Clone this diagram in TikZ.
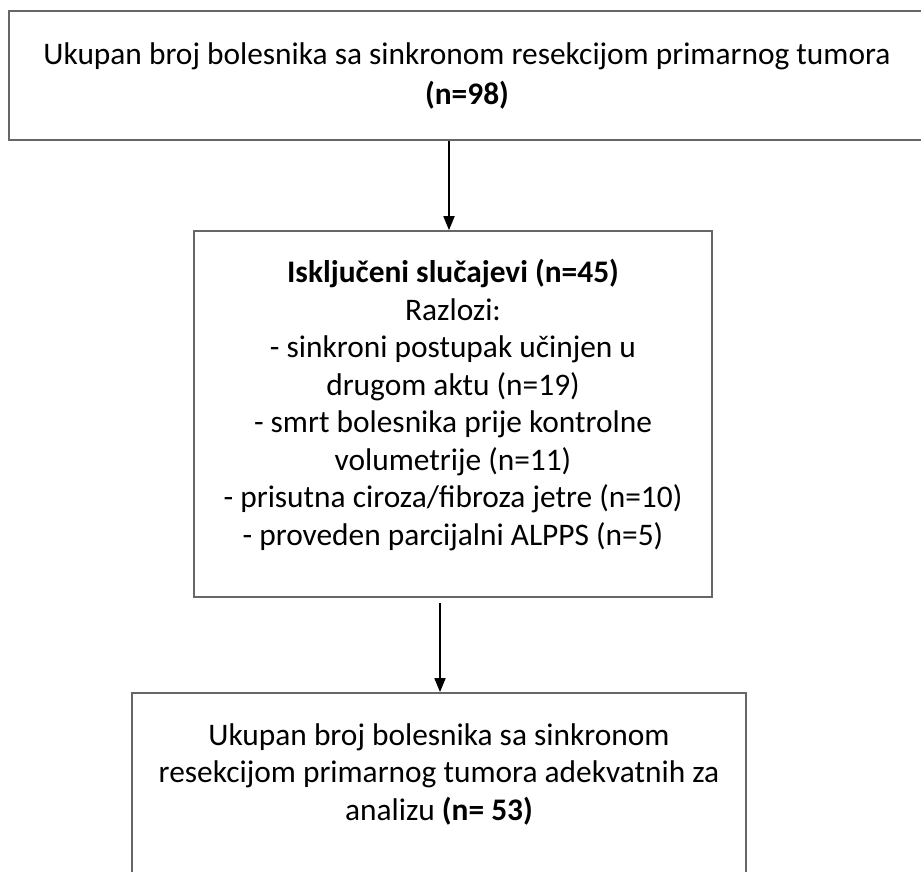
\documentclass[tikz,border=0pt]{standalone}
\usepackage{fontspec}
\setmainfont{Carlito}
\usetikzlibrary{arrows.meta}

\begin{document}
\begin{tikzpicture}[x=0.36pt,y=-0.36pt,
 box/.style={draw=black!60,line width=0.6pt,align=center,inner sep=0pt,
  font=\fontsize{11.3}{13.5}\selectfont},
 arr/.style={-{Triangle[width=4pt,length=5pt]},line width=0.5pt}]
\useasboundingbox (0,0) rectangle (921,871);
\clip (0,0) rectangle (921,871);
\node[box,minimum width=329.8pt,minimum height=46.4pt,font=\fontsize{11.3}{14.4}\selectfont] (total) at (467,75.5)
 {Ukupan broj bolesnika sa sinkronom resekcijom primarnog tumora\\\textbf{(n=98)}};
\node[box,minimum width=186.5pt,minimum height=131.8pt,text depth=8.5pt] (excl) at (453,414)
 {\textbf{Isključeni slučajevi (n=45)}\\Razlozi:\\- sinkroni postupak učinjen u\\drugom aktu (n=19)\\
  - smrt bolesnika prije kontrolne\\volumetrije (n=11)\\- prisutna ciroza/fibroza jetre (n=10)\\
  - proveden parcijalni ALPPS (n=5)};
\node[box,minimum width=221pt,anchor=north,inner ysep=11pt,text depth=60pt] (final) at (439,692)
 {Ukupan broj bolesnika sa sinkronom\\resekcijom primarnog tumora adekvatnih za\\analizu \textbf{(n= 53)}};
\coordinate (a1) at (449,0);
\coordinate (a2) at (440,0);
\draw[arr] (total.south -| a1) -- (excl.north -| a1);
\draw[arr,shorten <=2pt] (excl.south -| a2) -- (final.north -| a2);
\end{tikzpicture}
\end{document}
